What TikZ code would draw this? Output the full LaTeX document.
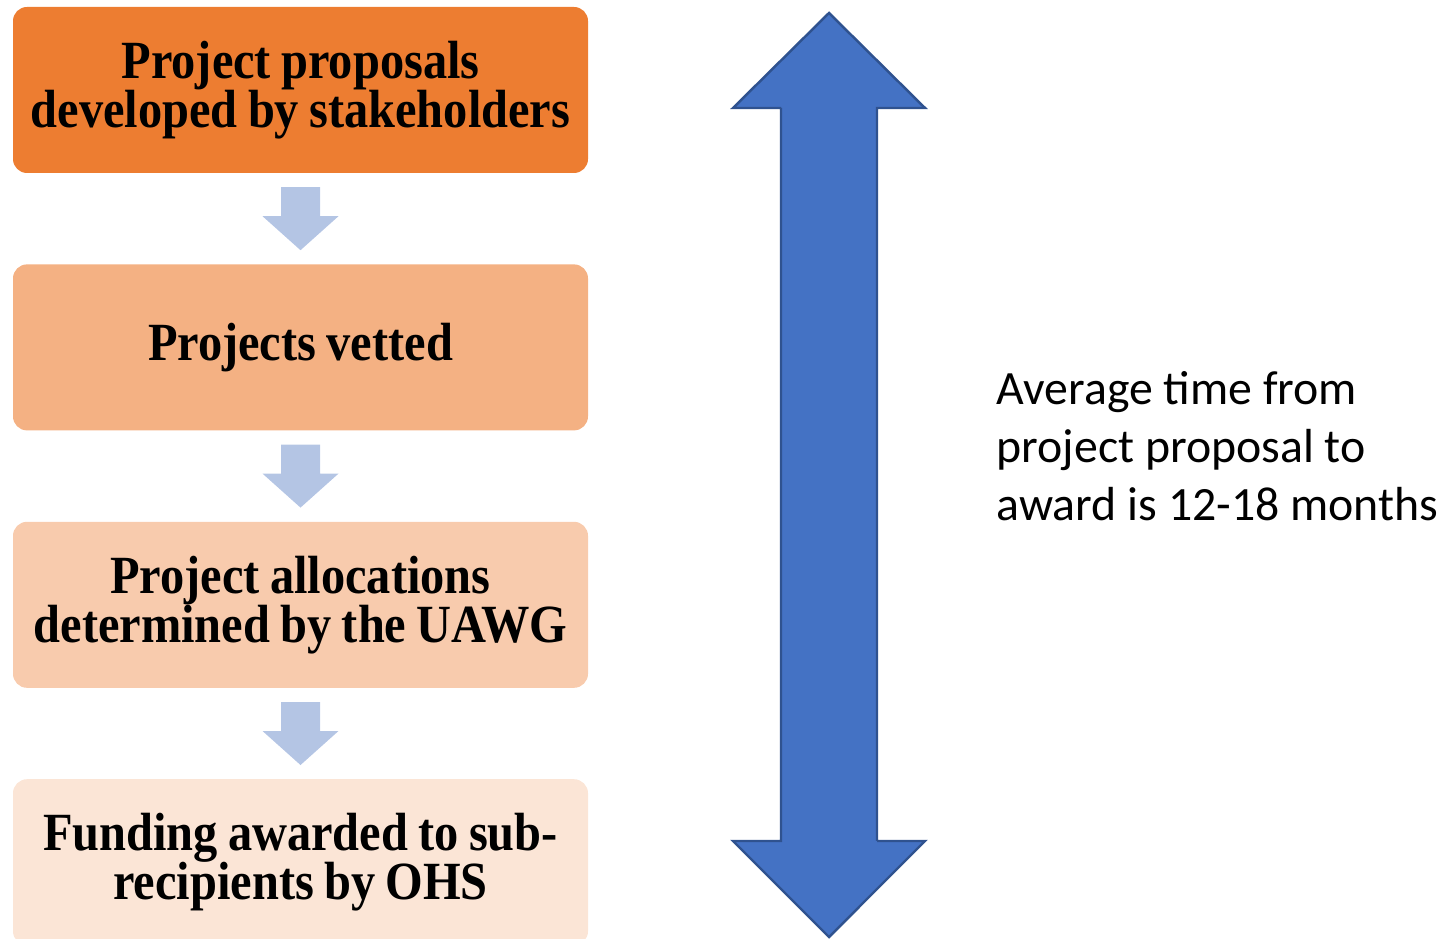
\documentclass[tikz,border=0pt]{standalone}
\usepackage{fontspec}
\usepackage{tikz}
\usetikzlibrary{positioning, calc}
\usepackage{xcolor}
\setmainfont{Carlito}
\newfontfamily\boxfont{Liberation Serif}[FakeStretch=0.9, WordSpace=0.85]
\newcommand{\stagefont}{\boxfont\bfseries\fontsize{15.3}{14}\selectfont\lineskiplimit=-20pt\relax}
\definecolor{StageDark}{HTML}{ED7D31}
\definecolor{StageMid}{HTML}{F4B183}
\definecolor{StageLight}{HTML}{F8CBAD}
\definecolor{StagePale}{HTML}{FBE5D6}
\definecolor{FlowBlue}{HTML}{B4C5E4}
\definecolor{SpanBlue}{HTML}{4472C4}
\definecolor{SpanEdge}{HTML}{2F528F}

\newcommand{\flowarrow}[1]{%
  \fill[FlowBlue] ($#1+(-0.195,0.315)$) -- ($#1+(0.195,0.315)$) -- ($#1+(0.195,0.025)$)
    -- ($#1+(0.38,0.025)$) -- ($#1+(0,-0.315)$) -- ($#1+(-0.38,0.025)$)
    -- ($#1+(-0.195,0.025)$) -- cycle;}

\begin{document}
\begin{tikzpicture}[
    stage/.style={rounded corners=0.14cm, minimum width=5.75cm, minimum height=1.66cm,
      align=center, inner sep=0pt, font=\stagefont}
  ]
  \useasboundingbox (0,0) rectangle (14.49,-9.39);

  \node[stage, fill=StageDark] (proposal) at (3.005,-0.90) {Project proposals\\developed by stakeholders};
  \node[stage, fill=StageMid, below=0.9cm of proposal] (vetted) {Projects vetted};
  \node[stage, fill=StageLight, below=0.9cm of vetted] (alloc) {Project allocations\\determined by the UAWG};
  \node[stage, fill=StagePale, below=0.9cm of alloc] (award) {Funding awarded to sub-\\recipients by OHS};

  % Flow arrows between the stages
  \coordinate (f1) at ($(proposal.south)!0.5!(vetted.north)$);
  \coordinate (f2) at ($(vetted.south)!0.5!(alloc.north)$);
  \coordinate (f3) at ($(alloc.south)!0.5!(award.north)$);
  \flowarrow{(f1)}
  \flowarrow{(f2)}
  \flowarrow{(f3)}

  % Time span arrow
  \coordinate (top) at (8.29,-0.13);
  \coordinate (bot) at (8.29,-9.37);
  \filldraw[fill=SpanBlue, draw=SpanEdge, line width=0.7pt, line join=miter]
    (top) -- ++(0.96,-0.95) -- ++(-0.48,0) |- ($(bot)+(0.48,0.96)$)
    -- ++(0.48,0) -- (bot) -- ++(-0.96,0.96) -- ++(0.48,0) |- ($(top)+(-0.48,-0.95)$)
    -- ++(-0.48,0) -- cycle;

  \node[anchor=west, align=left, inner sep=0pt, font=\fontsize{13.6}{16.6}\selectfont]
    (note) at (9.96,-4.46) {Average time from\\project proposal to\\award is 12-18 months};
\end{tikzpicture}
\end{document}
